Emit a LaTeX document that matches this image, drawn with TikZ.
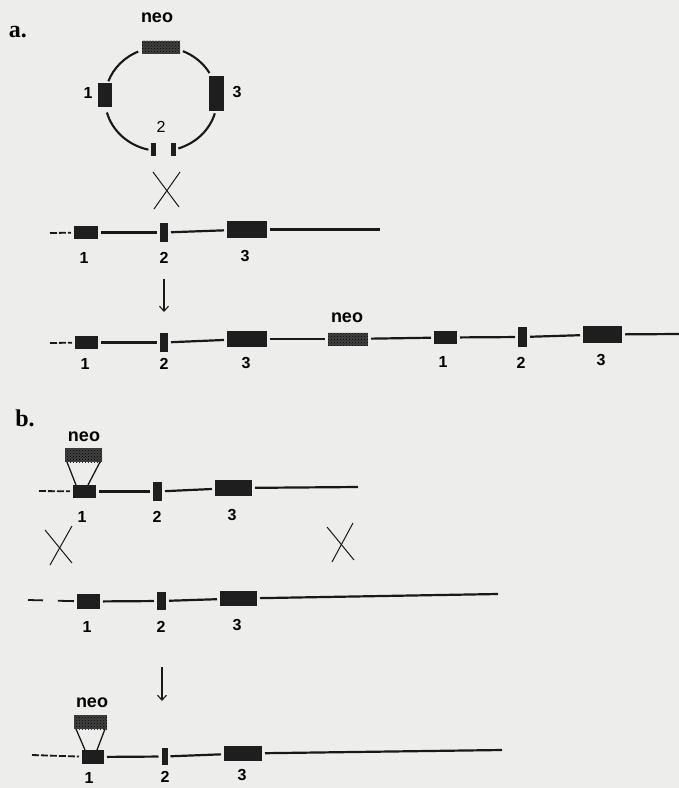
\documentclass[tikz,border=0pt]{standalone}
\usepackage{fontspec}
\setmainfont{Liberation Sans}
\newfontfamily\serifbold{Liberation Serif}
\usetikzlibrary{patterns,arrows.meta}
\definecolor{bg}{RGB}{237,237,235}
\definecolor{exoncol}{RGB}{30,30,30}
\definecolor{linecol}{RGB}{25,25,25}
\newcommand\ex[5]{\node[exon,minimum width=#4pt,minimum height=#5pt] (#1) at (#2,#3) {};}
\newcommand\neobox{\node[neo]}
\tikzset{
  exon/.style={rectangle,fill=exoncol,inner sep=0pt,outer sep=0pt},
  neo/.style={rectangle,inner sep=0pt,outer sep=0pt,preaction={fill=black!74},pattern=crosshatch dots,pattern color=black},
  link/.style={draw=linecol,line width=2.2pt,shorten <=3pt,shorten >=3pt},
  startlink/.style={draw=linecol,line width=1.8pt,dash pattern=on 7pt off 2pt,shorten >=3pt},
  arcline/.style={draw=linecol,line width=2.1pt},
  crossline/.style={draw=linecol,line width=1pt},
  downarrow/.style={draw=linecol,line width=1.1pt,-{Straight Barb[length=5pt,width=9pt,line width=1.1pt]}},
  num/.style={font=\fontsize{16}{16}\selectfont\bfseries,inner sep=0pt},
  neolabel/.style={font=\fontsize{18}{18}\selectfont\bfseries,inner sep=0pt},
  parttag/.style={font=\serifbold\fontsize{24}{24}\selectfont\bfseries,inner sep=0pt}
}
\begin{document}
\begin{tikzpicture}[x=1pt,y=-1pt]
\fill[bg] (0,0) rectangle (679,788);
\useasboundingbox (0,0) rectangle (679,788);

% ---------------- part a ----------------
\node[parttag] (taga) at (18,32) {a.};
% circular vector
\coordinate (c) at (161,99);
\neobox[minimum width=38pt,minimum height=13pt] (cneo) at (161,47) {};
\node[neolabel] (cneolab) at (157,18) {neo};
\ex{c1}{105}{95}{14}{24}
\ex{c3}{216.5}{93.5}{15}{35}
\ex{c2a}{153.5}{149.5}{5}{13}
\ex{c2b}{173.5}{149.5}{5}{13}
\node[num] (c1lab) at (88,93) {1};
\node[num] (c3lab) at (237,92) {3};
\node[num,font=\fontsize{16}{16}\selectfont] (c2lab) at (161,127) {2};
\draw[arcline] ([shift={(-114:56 and 52)}]c) arc[start angle=-114,end angle=-160,x radius=56,y radius=52];
\draw[arcline] ([shift={(165:56 and 52)}]c) arc[start angle=165,end angle=103,x radius=56,y radius=52];
\draw[arcline] ([shift={(72:56 and 52)}]c) arc[start angle=72,end angle=16,x radius=56,y radius=52];
\draw[arcline] ([shift={(-30:56 and 52)}]c) arc[start angle=-30,end angle=-67,x radius=56,y radius=52];
% cross
\coordinate (xa1) at (153,172); \coordinate (xa2) at (179,207);
\coordinate (xa3) at (180,172); \coordinate (xa4) at (154,209);
\draw[crossline] (xa1) -- (xa2);
\draw[crossline] (xa3) -- (xa4);

% chromosome row a1
\coordinate (a1s) at (50,233);
\ex{a1e1}{86}{232.5}{24}{13}
\ex{a1e2}{164}{232.5}{8}{19}
\ex{a1e3}{247}{229.5}{40}{17}
\coordinate (a1end) at (380,229.5);
\draw[startlink] (a1s) -- (a1e1);
\draw[link] (a1e1) -- (a1e2);
\draw[link] (a1e2) -- (a1e3);
\draw[link,shorten >=0pt] (a1e3) -- (a1end);
\node[num] (a1l1) at (84,258) {1};
\node[num] (a1l2) at (164,258) {2};
\node[num] (a1l3) at (245,256) {3};

\coordinate (arA1) at (164,279); \coordinate (arA2) at (164,312);
\draw[downarrow] (arA1) -- (arA2);

% chromosome row a2
\coordinate (a2s) at (50,343);
\ex{a2e1}{86.5}{342.5}{23}{13}
\ex{a2e2}{164}{342.5}{8}{19}
\ex{a2e3}{247}{339}{40}{16}
\neobox[minimum width=40pt,minimum height=13pt] (a2neo) at (348,339) {};
\ex{a2f1}{445.5}{337.5}{23}{13}
\ex{a2f2}{522.5}{337}{9}{20}
\ex{a2f3}{602.5}{334.5}{39}{17}
\coordinate (a2end) at (679,334);
\draw[startlink] (a2s) -- (a2e1);
\draw[link] (a2e1) -- (a2e2);
\draw[link] (a2e2) -- (a2e3);
\draw[link] (a2e3) -- (a2neo);
\draw[link] (a2neo) -- (a2f1);
\draw[link] (a2f1) -- (a2f2);
\draw[link] (a2f2) -- (a2f3);
\draw[link,shorten >=0pt] (a2f3) -- (a2end);
\node[neolabel] (a2neolab) at (347,318) {neo};
\node[num] (a2l1) at (85,364) {1};
\node[num] (a2l2) at (164,364) {2};
\node[num] (a2l3) at (246,363) {3};
\node[num] (a2m1) at (443,362) {1};
\node[num] (a2m2) at (521,363) {2};
\node[num] (a2m3) at (601,360) {3};

% ---------------- part b ----------------
\node[parttag] (tagb) at (25,418) {b.};
% targeting construct
\coordinate (b1s) at (39,491);
\ex{b1e1}{84.5}{491.5}{23}{13}
\ex{b1e2}{157.5}{491.5}{9}{19}
\ex{b1e3}{233.5}{488}{37}{16}
\coordinate (b1end) at (358,487);
\draw[startlink] (b1s) -- (b1e1);
\draw[link] (b1e1) -- (b1e2);
\draw[link] (b1e2) -- (b1e3);
\draw[link,shorten >=0pt] (b1e3) -- (b1end);
\neobox[minimum width=37pt,minimum height=14pt] (b1neo) at (83.5,455) {};
\node[neolabel] (b1neolab) at (84,437) {neo};
\draw[crossline,line width=1.3pt] ([xshift=2pt]b1neo.south west) -- ([xshift=3pt]b1e1.north west);
\draw[crossline,line width=1.3pt] ([xshift=-2pt]b1neo.south east) -- ([xshift=-8pt]b1e1.north east);
\node[num] (b1l1) at (82,517) {1};
\node[num] (b1l2) at (157,517) {2};
\node[num] (b1l3) at (232,515) {3};

% crosses
\coordinate (xb1) at (72,526); \coordinate (xb2) at (50,565);
\coordinate (xb3) at (45,530); \coordinate (xb4) at (72,563);
\draw[crossline] (xb1) -- (xb2);
\draw[crossline] (xb3) -- (xb4);
\coordinate (xc1) at (353,523); \coordinate (xc2) at (332,562);
\coordinate (xc3) at (327,527); \coordinate (xc4) at (354,560);
\draw[crossline] (xc1) -- (xc2);
\draw[crossline] (xc3) -- (xc4);

% endogenous gene
\coordinate (b2s) at (28,600);
\ex{b2e1}{88.5}{601.5}{23}{15}
\ex{b2e2}{161.5}{601}{9}{18}
\ex{b2e3}{238.5}{598.5}{37}{15}
\coordinate (b2end) at (498,594);
\draw[startlink,dash pattern=on 15pt off 15pt on 20pt] (b2s) -- (b2e1);
\draw[link] (b2e1) -- (b2e2);
\draw[link] (b2e2) -- (b2e3);
\draw[link,shorten >=0pt] (b2e3) -- (b2end);
\node[num] (b2l1) at (87,627) {1};
\node[num] (b2l2) at (161,627) {2};
\node[num] (b2l3) at (237,625) {3};

\coordinate (arB1) at (162,667); \coordinate (arB2) at (162,701);
\draw[downarrow] (arB1) -- (arB2);

% recombined gene
\coordinate (b3s) at (32,755);
\ex{b3e1}{93}{757}{22}{14}
\ex{b3e2}{164.5}{756.5}{6}{17}
\ex{b3e3}{243}{753.5}{38}{15}
\coordinate (b3end) at (502,750);
\draw[startlink] (b3s) -- (b3e1);
\draw[link] (b3e1) -- (b3e2);
\draw[link] (b3e2) -- (b3e3);
\draw[link,shorten >=0pt] (b3e3) -- (b3end);
\neobox[minimum width=33pt,minimum height=14pt] (b3neo) at (90.5,722) {};
\node[neolabel] (b3neolab) at (92,703) {neo};
\draw[crossline,line width=1.3pt] ([xshift=2pt]b3neo.south west) -- ([xshift=3pt]b3e1.north west);
\draw[crossline,line width=1.3pt] ([xshift=-2pt]b3neo.south east) -- ([xshift=-7pt]b3e1.north east);
\node[num] (b3l1) at (89,778) {1};
\node[num] (b3l2) at (165,777) {2};
\node[num] (b3l3) at (242,775) {3};
\end{tikzpicture}
\end{document}
